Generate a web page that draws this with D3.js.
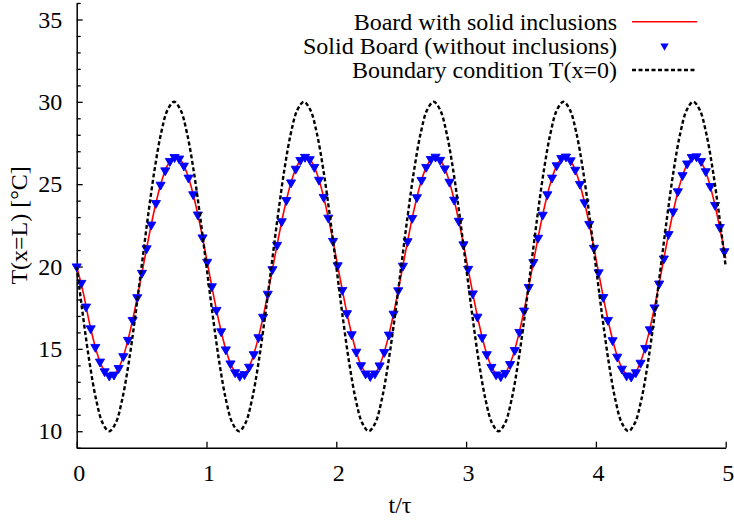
<!DOCTYPE html>
<html>
<head>
<meta charset="utf-8">
<script src="https://cdn.jsdelivr.net/npm/d3@7"></script>
<style>
  body { margin: 0; background: #fff; }
  text { font-family: "Liberation Serif", "Times New Roman", serif; }
</style>
</head>
<body>
<svg id="chart"></svg>
<script>
const width = 734;
const height = 521;

// time grid of the sampled curves (t/tau)
const lineStep = 0.05;
const markerStep = 0.0359;

// red line: board with solid inclusions (every 0.05)
const boardInclusions = [
  20.00, 18.43, 16.51, 14.93, 13.85, 13.37, 13.54, 14.34, 15.70, 17.47, 19.50, 21.57, 23.49, 25.07, 26.15, 26.63, 26.46, 25.66, 24.30, 22.53,
  20.50, 18.43, 16.51, 14.93, 13.85, 13.37, 13.54, 14.34, 15.70, 17.47, 19.50, 21.57, 23.49, 25.07, 26.15, 26.63, 26.46, 25.66, 24.30, 22.53,
  20.50, 18.43, 16.51, 14.93, 13.85, 13.37, 13.54, 14.34, 15.70, 17.47, 19.50, 21.57, 23.49, 25.07, 26.15, 26.63, 26.46, 25.66, 24.30, 22.53,
  20.50, 18.43, 16.51, 14.93, 13.85, 13.37, 13.54, 14.34, 15.70, 17.47, 19.50, 21.57, 23.49, 25.07, 26.15, 26.63, 26.46, 25.66, 24.30, 22.53,
  20.50, 18.43, 16.51, 14.93, 13.85, 13.37, 13.54, 14.34, 15.70, 17.47, 19.50, 21.57, 23.49, 25.07, 26.15, 26.63, 26.46, 25.66, 24.30, 22.53,
  20.50
];

// blue triangles: solid board without inclusions (every 0.0359)
const solidBoard = [
  20.00, 19.00, 17.56, 16.24, 15.11, 14.22, 13.63, 13.37, 13.43, 13.83, 14.55, 15.54, 16.75, 18.13,
  19.61, 21.10, 22.54, 23.85, 24.96, 25.83, 26.40, 26.64, 26.55, 26.12, 25.39, 24.38, 23.15, 21.76,
  20.28, 18.79, 17.36, 16.06, 14.96, 14.11, 13.57, 13.35, 13.46, 13.91, 14.67, 15.70, 16.94, 18.34,
  19.83, 21.31, 22.74, 24.03, 25.10, 25.93, 26.46, 26.65, 26.51, 26.04, 25.26, 24.22, 22.96, 21.55,
  20.07, 18.57, 17.16, 15.88, 14.82, 14.00, 13.50, 13.34, 13.50, 13.99, 14.80, 15.86, 17.13, 18.55,
  20.04, 21.53, 22.94, 24.20, 25.25, 26.04, 26.52, 26.66, 26.47, 25.95, 25.14, 24.05, 22.77, 21.34,
  19.85, 18.36, 16.95, 15.70, 14.67, 13.90, 13.44, 13.33, 13.53, 14.07, 14.92, 16.02, 17.32, 18.75,
  20.26, 21.74, 23.14, 24.38, 25.39, 26.14, 26.58, 26.67, 26.44, 25.87, 25.01, 23.89, 22.58, 21.13,
  19.64, 18.14, 16.75, 15.52, 14.52, 13.79, 13.38, 13.31, 13.57, 14.15, 15.05, 16.18, 17.51, 18.96,
  20.48, 21.96, 23.34, 24.56, 25.54, 26.25, 26.64, 26.68, 26.40, 25.78, 24.88, 23.73, 22.39, 20.92
];

// black dashed: boundary condition T(x=0) (every 0.05)
const boundary = [
  20.00, 16.91, 14.12, 11.91, 10.49, 10.00, 10.49, 11.91, 14.12, 16.91, 20.00, 23.09, 25.88, 28.09, 29.51, 30.00, 29.51, 28.09, 25.88, 23.09,
  20.00, 16.91, 14.12, 11.91, 10.49, 10.00, 10.49, 11.91, 14.12, 16.91, 20.00, 23.09, 25.88, 28.09, 29.51, 30.00, 29.51, 28.09, 25.88, 23.09,
  20.00, 16.91, 14.12, 11.91, 10.49, 10.00, 10.49, 11.91, 14.12, 16.91, 20.00, 23.09, 25.88, 28.09, 29.51, 30.00, 29.51, 28.09, 25.88, 23.09,
  20.00, 16.91, 14.12, 11.91, 10.49, 10.00, 10.49, 11.91, 14.12, 16.91, 20.00, 23.09, 25.88, 28.09, 29.51, 30.00, 29.51, 28.09, 25.88, 23.09,
  20.00, 16.91, 14.12, 11.91, 10.49, 10.00, 10.49, 11.91, 14.12, 16.91, 20.00, 23.09, 25.88, 28.09, 29.51, 30.00, 29.51, 28.09, 25.88, 23.09,
  20.00
];

const xTicks = [0, 1, 2, 3, 4, 5];
const yTicks = [10, 15, 20, 25, 30, 35];
const legendLabels = ["Board with solid inclusions", "Solid Board (without inclusions)", "Boundary condition T(x=0)"];

const serif = "'Liberation Serif', 'Times New Roman', serif";

const svg = d3.select("#chart")
  .attr("width", width)
  .attr("height", height);

svg.append("rect").attr("width", width).attr("height", height).attr("fill", "#fff");

const x = d3.scaleLinear().domain([0, 5]).range([76.7, 725.7]);
const y = d3.scaleLinear().domain([9, 36]).range([447.7, 3]);

// minor y ticks
svg.append("g")
  .attr("transform", `translate(${x(0)},0)`)
  .call(d3.axisLeft(y).tickValues(d3.range(9, 37).filter(v => v % 5 !== 0)).tickSize(-4).tickFormat(""))
  .call(g => g.select(".domain").remove())
  .call(g => g.selectAll("line").attr("stroke-width", 1.3));

// y axis
svg.append("g")
  .attr("transform", `translate(${x(0)},0)`)
  .attr("font-family", serif)
  .call(d3.axisLeft(y).tickValues(yTicks).tickSize(-6).tickSizeOuter(0).tickPadding(14.5))
  .attr("font-family", serif)
  .attr("font-size", 24)
  .call(g => g.select(".domain").attr("stroke-width", 1.5))
  .call(g => g.selectAll("line").attr("stroke-width", 1.3))
  .call(g => g.selectAll("text").attr("fill", "#000"));

// x axis
svg.append("g")
  .attr("transform", `translate(0,${y(9)})`)
  .call(d3.axisBottom(x).tickValues(xTicks).tickSize(-6).tickSizeOuter(0).tickPadding(16).tickFormat(d3.format("d")))
  .attr("font-family", serif)
  .attr("font-size", 24)
  .call(g => g.select(".domain").attr("stroke-width", 1.5))
  .call(g => g.selectAll("line").attr("stroke-width", 1.3))
  .call(g => g.selectAll("text").attr("dx", 2).attr("fill", "#000"));

// axis titles
svg.append("text")
  .attr("x", 400)
  .attr("y", 513)
  .attr("text-anchor", "middle")
  .style("font-size", "24px")
  .text("t/τ");

svg.append("text")
  .attr("transform", `translate(27,${(y(9) + y(36)) / 2}) rotate(-90)`)
  .attr("text-anchor", "middle")
  .style("font-size", "24px")
  .text("T(x=L) [°C]");

const line = d3.line()
  .x(d => x(d.t))
  .y(d => y(d.v))
  .curve(d3.curveCatmullRom);

const redData = boardInclusions.map((v, i) => ({ t: i * lineStep, v }));
const blackData = boundary.map((v, i) => ({ t: i * lineStep, v }));
const markerData = solidBoard.map((v, i) => ({ t: i * markerStep, v }));

svg.append("path")
  .datum(redData)
  .attr("fill", "none")
  .attr("stroke", "#ff0000")
  .attr("stroke-width", 1.6)
  .attr("d", line);

const tri = d3.symbol().type(d3.symbolTriangle).size(36);

svg.append("g")
  .selectAll("path")
  .data(markerData)
  .join("path")
  .attr("transform", d => `translate(${x(d.t)},${y(d.v)}) rotate(180)`)
  .attr("d", tri)
  .attr("fill", "#0000ff")
  .attr("stroke", "#0000ff")
  .attr("stroke-width", 0.9)
  .attr("stroke-linejoin", "round");

svg.append("path")
  .datum(blackData)
  .attr("fill", "none")
  .attr("stroke", "#000")
  .attr("stroke-width", 2.4)
  .attr("stroke-dasharray", "4,2.5")
  .attr("d", line);

// legend
const legendY = [21.7, 46, 70];
const legend = svg.append("g");

legendLabels.forEach((label, i) => {
  legend.append("text")
    .attr("x", 617)
    .attr("y", legendY[i] + 8)
    .attr("text-anchor", "end")
    .style("font-size", "24px")
    .text(label);
});

legend.append("line")
  .attr("x1", 632).attr("x2", 697)
  .attr("y1", legendY[0]).attr("y2", legendY[0])
  .attr("stroke", "#ff0000").attr("stroke-width", 1.6);

legend.append("path")
  .attr("transform", `translate(664.5,${legendY[1]}) rotate(180)`)
  .attr("d", d3.symbol().type(d3.symbolTriangle).size(30))
  .attr("fill", "#0000ff");

legend.append("line")
  .attr("x1", 632).attr("x2", 697)
  .attr("y1", legendY[2]).attr("y2", legendY[2])
  .attr("stroke", "#000").attr("stroke-width", 2.4)
  .attr("stroke-dasharray", "4,2.5");
</script>
</body>
</html>
